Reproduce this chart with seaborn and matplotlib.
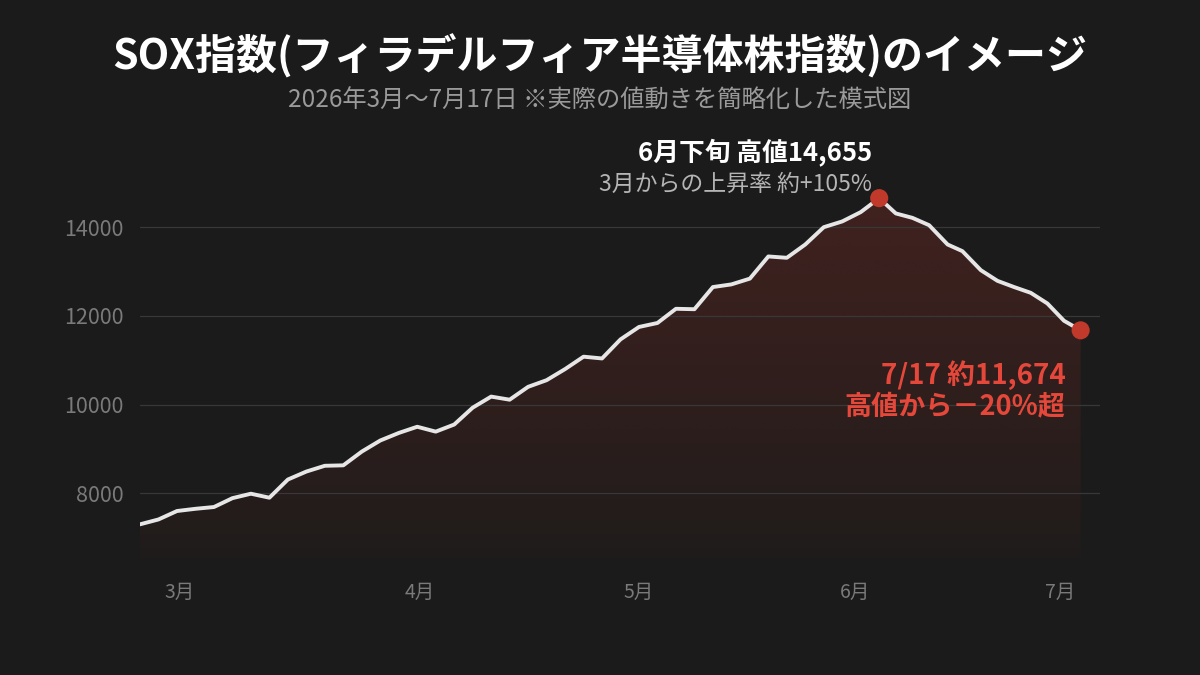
import numpy as np
import pandas as pd
import matplotlib
matplotlib.use("Agg")
import matplotlib.pyplot as plt
import seaborn as sns

# ---------------- data ----------------
t_pos = [0, 1, 2, 3, 4, 5, 6, 7, 8, 9, 10, 11, 12, 13, 14, 15, 16, 17, 18, 19,
         20, 21, 22, 23, 24, 25, 26, 27, 28, 29, 30, 31, 32, 33, 34, 35, 36, 37, 38, 39,
         40, 40.9, 41.8, 42.7, 43.7, 44.5, 45.5, 46.4, 47.3, 48.2, 49.1, 50.0, 50.9]
sox = [7300, 7410, 7600, 7650, 7690, 7890, 7990, 7900, 8310, 8490,
       8620, 8630, 8940, 9190, 9360, 9500, 9390, 9550, 9930, 10180,
       10110, 10400, 10550, 10800, 11080, 11040, 11470, 11750, 11840, 12160,
       12150, 12650, 12710, 12840, 13340, 13310, 13610, 14000, 14130, 14340,
       14655, 14310, 14210, 14045, 13610, 13460, 13030, 12790, 12650, 12520,
       12280, 11890, 11674]
month_labels = ["3月", "4月", "5月", "6月", "7月"]
month_pos = [2.16, 15.15, 27.0, 38.7, 49.8]
y_ticks = [8000, 10000, 12000, 14000]

title = "SOX指数(フィラデルフィア半導体株指数)のイメージ"
subtitle = "2026年3月〜7月17日 ※実際の値動きを簡略化した模式図"
peak_label1 = "6月下旬 高値14,655"
peak_label2 = "3月からの上昇率 約+105%"
end_label1 = "7/17 約11,674"
end_label2 = "高値から－20%超"

df = pd.DataFrame({"t": t_pos, "sox": sox})
peak_i = int(np.argmax(sox))
last_i = len(sox) - 1
marks = df.iloc[[peak_i, last_i]]

# ---------------- style ----------------
BG = "#1b1b1b"
LINE = "#e6e6e6"
RED = "#c0392b"
RED_TXT = "#e5483a"
GRID = "#383838"
TICK = "#7a7a7a"

sns.set_theme(style="dark")
plt.rcParams["font.family"] = ["Noto Sans CJK JP", "DejaVu Sans"]
plt.rcParams["axes.unicode_minus"] = False

fig = plt.figure(figsize=(12, 6.75), dpi=100, facecolor=BG)
ax = fig.add_axes([0.1167, 0.1733, 0.8, 0.5578])
ax.set_facecolor(BG)

y_lo, y_hi = 6540, 15030
x_lo, x_hi = 0, 51.95

# gradient fill under the line
fill = ax.fill_between(df["t"], df["sox"], y_lo, color="none", lw=0)
grad = np.zeros((256, 2, 4))
rgb = matplotlib.colors.to_rgb(RED)
grad[..., 0], grad[..., 1], grad[..., 2] = rgb
grad[..., 3] = np.linspace(0.24, 0.03, 256)[:, None]
img = ax.imshow(grad, extent=[x_lo, df["t"].iloc[-1], y_lo, y_hi], origin="upper",
                aspect="auto", zorder=1, interpolation="bilinear")
img.set_clip_path(fill.get_paths()[0], transform=ax.transData)

sns.lineplot(data=df, x="t", y="sox", ax=ax, color=LINE, lw=2.8, zorder=3,
             solid_joinstyle="round", solid_capstyle="round")
sns.scatterplot(data=marks, x="t", y="sox", ax=ax, color=RED, s=170,
                edgecolor="none", zorder=4)

ax.set_xlim(x_lo, x_hi)
ax.set_ylim(y_lo, y_hi)
ax.set_yticks(y_ticks)
ax.set_yticklabels([str(v) for v in y_ticks])
ax.set_xticks(month_pos)
ax.set_xticklabels(month_labels)
ax.grid(False)
for y in y_ticks:
    ax.axhline(y, color=GRID, lw=0.9, zorder=2)
ax.tick_params(axis="y", length=0, pad=12, labelsize=15.5, labelcolor=TICK)
ax.tick_params(axis="x", length=0, pad=17, labelsize=14, labelcolor=TICK)
ax.set_xlabel("")
ax.set_ylabel("")
for s in ax.spines.values():
    s.set_visible(False)

# annotations
px, py = df["t"].iloc[peak_i], df["sox"].iloc[peak_i]
ax.annotate(peak_label1, xy=(px, py), xytext=(-7, 46), textcoords="offset pixels",
            ha="right", va="center", color="white", fontsize=18.5, fontweight="bold")
ax.annotate(peak_label2, xy=(px, py), xytext=(-7, 14), textcoords="offset pixels",
            ha="right", va="center", color="#b5b5b5", fontsize=16.5)
ex, ey = df["t"].iloc[last_i], df["sox"].iloc[last_i]
ax.annotate(end_label1, xy=(ex, ey), xytext=(-15, -45), textcoords="offset pixels",
            ha="right", va="center", color=RED_TXT, fontsize=20, fontweight="bold")
ax.annotate(end_label2, xy=(ex, ey), xytext=(-15, -76), textcoords="offset pixels",
            ha="right", va="center", color=RED_TXT, fontsize=19.5, fontweight="bold")

fig.text(0.5, 1 - 56 / 675, title, ha="center", va="center", color="white",
         fontsize=29.5, fontweight="bold")
fig.text(0.5, 1 - 101 / 675, subtitle, ha="center", va="center", color="#9a9a9a",
         fontsize=17.5)

fig.savefig("out.png", dpi=100, facecolor=BG)
